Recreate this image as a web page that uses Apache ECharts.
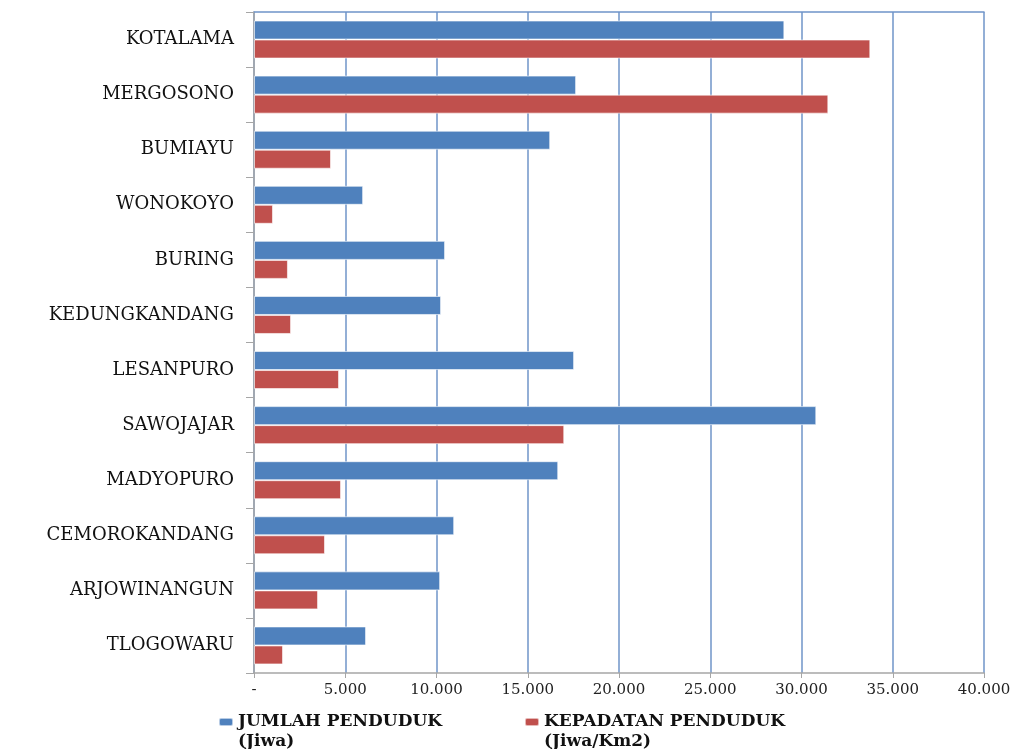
<!DOCTYPE html>
<html>
<head>
<meta charset="utf-8">
<script src="https://cdn.jsdelivr.net/npm/echarts@6/dist/echarts.min.js"></script>
<style>
  html, body { margin: 0; padding: 0; background: #fff; }
  #chart { width: 1022px; height: 749px; }
</style>
</head>
<body>
<div id="chart"></div>
<script>
const categories = [
  'KOTALAMA', 'MERGOSONO', 'BUMIAYU', 'WONOKOYO', 'BURING', 'KEDUNGKANDANG',
  'LESANPURO', 'SAWOJAJAR', 'MADYOPURO', 'CEMOROKANDANG', 'ARJOWINANGUN', 'TLOGOWARU'
]
const jumlahPenduduk = [29060, 17650, 16230, 5980, 10470, 10250, 17540, 30810, 16670, 10970, 10200, 6140]
const kepadatanPenduduk = [33770, 31470, 4220, 1040, 1860, 2030, 4660, 17000, 4770, 3890, 3510, 1590]
const xTicks = { min: 0, max: 40000, interval: 5000 }

const nameJumlah = 'JUMLAH PENDUDUK\n(Jiwa)'
const nameKepadatan = 'KEPADATAN PENDUDUK\n(Jiwa/Km2)'

const serif = '"DejaVu Serif", "Liberation Serif", serif'
const fmt = v => v === 0 ? '-' : String(v).replace(/\B(?=(\d{3})+(?!\d))/g, '.')

// blank first line so the icon lines up with the first text line, not the middle
const legendCommon = {
  top: 692,
  padding: 0,
  itemWidth: 14,
  itemHeight: 8,
  itemGap: 0,
  formatter: name => '\u00a0\n' + name,
  textStyle: { fontFamily: serif, fontSize: 17, fontWeight: 'bold', color: '#111', lineHeight: 20 }
}

const chart = echarts.init(document.getElementById('chart'))
chart.setOption({
  animation: false,
  grid: { left: 254, right: 38, top: 12, bottom: 76 },
  legend: [
    { ...legendCommon, left: 218, data: [nameJumlah] },
    { ...legendCommon, left: 524, data: [nameKepadatan] }
  ],
  xAxis: [
    {
      type: 'value',
      ...xTicks,
      axisLine: { show: true, lineStyle: { color: '#a6a6a6', width: 1.5 } },
      axisTick: { show: true, length: 5, lineStyle: { color: '#a6a6a6' } },
      axisLabel: { formatter: fmt, color: '#222', fontFamily: serif, fontSize: 15, margin: 10 },
      splitLine: { show: true, lineStyle: { color: '#6f94c9', width: 1.5 } }
    },
    {
      type: 'value',
      position: 'top',
      ...xTicks,
      axisLine: { show: true, lineStyle: { color: '#6f94c9', width: 1.5 } },
      axisTick: { show: false },
      axisLabel: { show: false },
      splitLine: { show: false }
    }
  ],
  yAxis: {
    type: 'category',
    inverse: true,
    data: categories,
    axisLine: { show: true, lineStyle: { color: '#a6a6a6', width: 1.5 } },
    axisTick: { show: true, length: 8, lineStyle: { color: '#a6a6a6' } },
    axisLabel: { color: '#111', fontFamily: serif, fontSize: 18, margin: 20 }
  },
  series: [
    {
      name: nameJumlah,
      type: 'bar',
      data: jumlahPenduduk,
      barGap: '0%',
      barCategoryGap: '31%',
      itemStyle: { color: '#4f81bd', borderColor: 'rgba(255,255,255,0.6)', borderWidth: 1 }
    },
    {
      name: nameKepadatan,
      type: 'bar',
      data: kepadatanPenduduk,
      barGap: '0%',
      barCategoryGap: '31%',
      itemStyle: { color: '#c0504d', borderColor: 'rgba(255,255,255,0.6)', borderWidth: 1 }
    }
  ]
})
</script>
</body>
</html>
